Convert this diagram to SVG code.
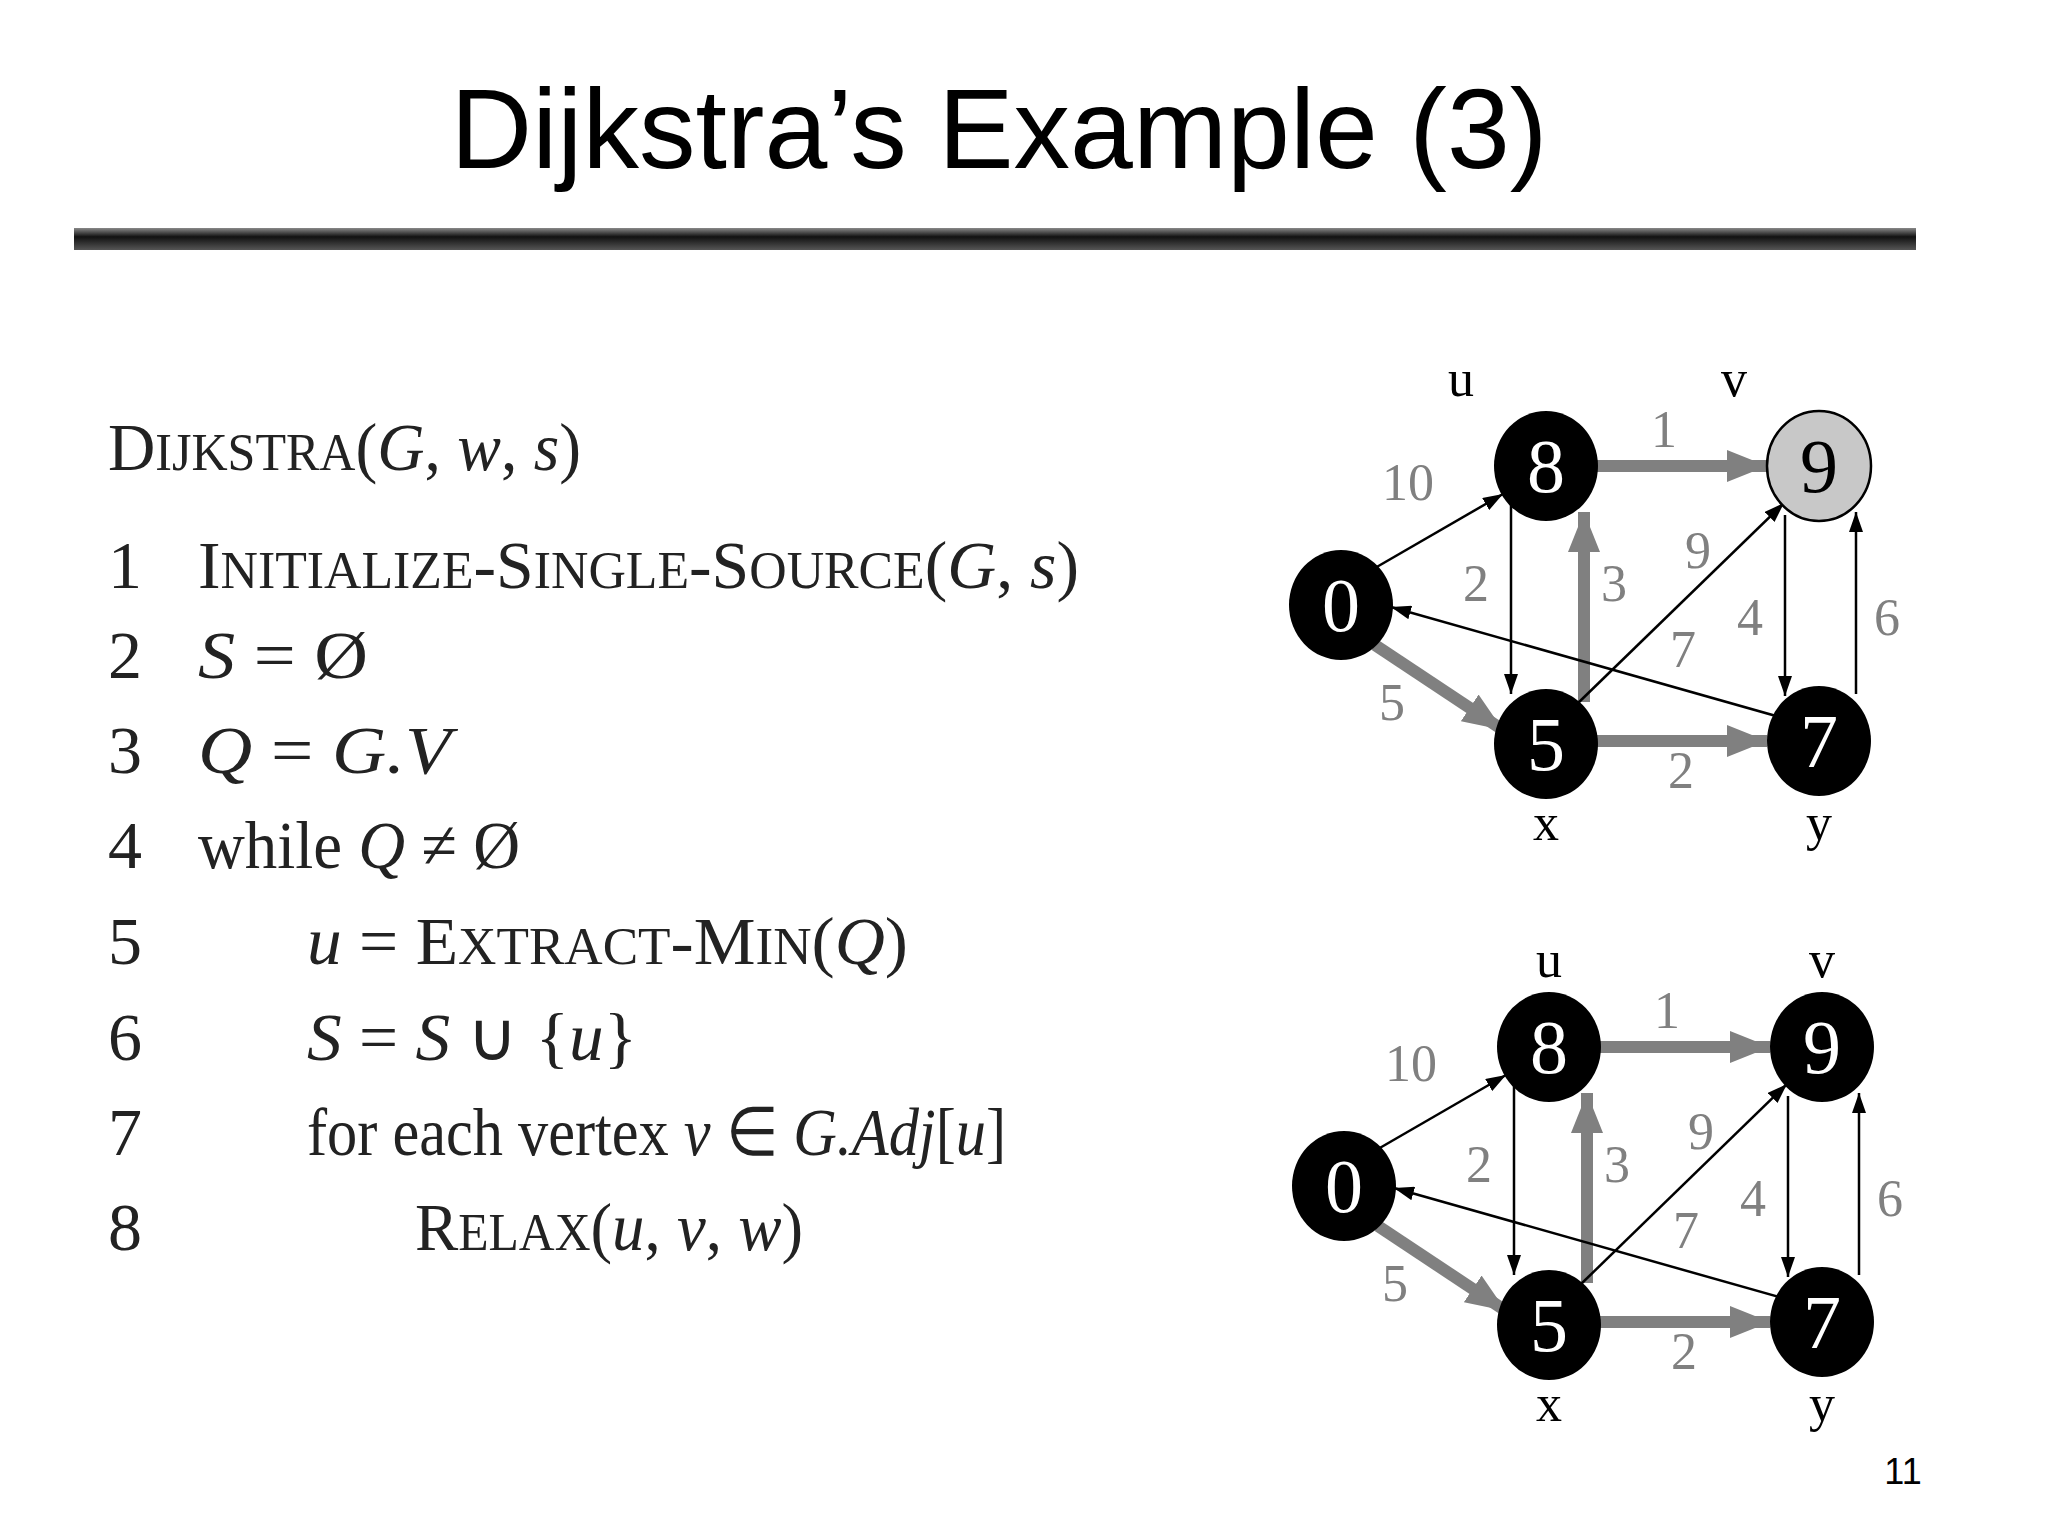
<svg xmlns="http://www.w3.org/2000/svg" width="2048" height="1536" viewBox="0 0 2048 1536">
<defs>
<linearGradient id="bar" x1="0" y1="0" x2="0" y2="1">
<stop offset="0" stop-color="#888"/><stop offset="0.4" stop-color="#111"/><stop offset="1" stop-color="#555"/>
</linearGradient>
<marker id="ab" markerUnits="userSpaceOnUse" markerWidth="22" markerHeight="14" refX="20" refY="7" orient="auto"><path d="M0,0 L20,7 L0,14 z" fill="#000"/></marker>
<marker id="ag" markerUnits="userSpaceOnUse" markerWidth="42" markerHeight="32" refX="40" refY="16" orient="auto"><path d="M0,0 L40,16 L0,32 z" fill="#808080"/></marker>
</defs>
<style>
.t{stroke:#000;stroke-width:2.5;fill:none;marker-end:url(#ab)}
.g{stroke:#808080;stroke-width:12;fill:none;marker-end:url(#ag)}
.n{fill:#000}
.nl{font-family:"Liberation Serif",serif;font-size:76px;fill:#fff;text-anchor:middle}
.el{font-family:"Liberation Serif",serif;font-size:52px;fill:#808080;text-anchor:middle}
.vl{font-family:"Liberation Serif",serif;font-size:52px;fill:#000;text-anchor:middle}
.code{font-family:"Liberation Serif",serif;font-size:68px;fill:#222}
.sc{font-size:52px}
</style>
<rect width="2048" height="1536" fill="#fff"/>
<text x="999" y="168" font-family="Liberation Sans, Arial, sans-serif" font-size="113" text-anchor="middle" fill="#000">Dijkstra’s Example (3)</text>
<rect x="74" y="228" width="1842" height="22" fill="url(#bar)"/>
<g id="code" class="code">
<text x="108" y="470" textLength="473" lengthAdjust="spacingAndGlyphs">D<tspan class="sc">IJKSTRA</tspan>(<tspan font-style="italic">G</tspan>, <tspan font-style="italic">w</tspan>, <tspan font-style="italic">s</tspan>)</text>
<text x="108" y="588">1</text><text x="198" y="588" textLength="881" lengthAdjust="spacingAndGlyphs">I<tspan class="sc">NITIALIZE</tspan>-S<tspan class="sc">INGLE</tspan>-S<tspan class="sc">OURCE</tspan>(<tspan font-style="italic">G</tspan>, <tspan font-style="italic">s</tspan>)</text>
<text x="108" y="678">2</text><text x="198" y="678" textLength="170" lengthAdjust="spacingAndGlyphs"><tspan font-style="italic">S</tspan> = Ø</text>
<text x="108" y="773">3</text><text x="198" y="773" textLength="253" lengthAdjust="spacingAndGlyphs"><tspan font-style="italic">Q</tspan> = <tspan font-style="italic">G.V</tspan></text>
<text x="108" y="868">4</text><text x="198" y="868" textLength="322" lengthAdjust="spacingAndGlyphs">while <tspan font-style="italic">Q</tspan> ≠ Ø</text>
<text x="108" y="964">5</text><text x="307" y="964" textLength="601" lengthAdjust="spacingAndGlyphs"><tspan font-style="italic">u</tspan> = E<tspan class="sc">XTRACT</tspan>-M<tspan class="sc">IN</tspan>(<tspan font-style="italic">Q</tspan>)</text>
<text x="108" y="1060">6</text><text x="307" y="1060" textLength="330" lengthAdjust="spacingAndGlyphs"><tspan font-style="italic">S</tspan> = <tspan font-style="italic">S</tspan> ∪ {<tspan font-style="italic">u</tspan>}</text>
<text x="108" y="1155">7</text><text x="307" y="1155" textLength="699" lengthAdjust="spacingAndGlyphs">for each vertex <tspan font-style="italic">v</tspan> ∈ <tspan font-style="italic">G.Adj</tspan>[<tspan font-style="italic">u</tspan>]</text>
<text x="108" y="1250">8</text><text x="415" y="1250" textLength="388" lengthAdjust="spacingAndGlyphs">R<tspan class="sc">ELAX</tspan>(<tspan font-style="italic">u</tspan>, <tspan font-style="italic">v</tspan>, <tspan font-style="italic">w</tspan>)</text>
</g>
<g id="graph1">
<g id="edges1">
<line class="t" x1="1375" y1="568" x2="1503" y2="494"/>
<line class="g" x1="1596" y1="466" x2="1767" y2="466"/>
<line class="t" x1="1511" y1="505" x2="1511" y2="694"/>
<line class="g" x1="1584" y1="702" x2="1584" y2="512"/>
<line class="t" x1="1576" y1="705" x2="1784" y2="503"/>
<line class="t" x1="1785" y1="515" x2="1785" y2="696"/>
<line class="t" x1="1856" y1="694" x2="1856" y2="512"/>
<line class="t" x1="1783" y1="718" x2="1391" y2="607"/>
<line class="g" x1="1375" y1="645" x2="1503" y2="730"/>
<line class="g" x1="1596" y1="741" x2="1767" y2="741"/>
</g>
<g id="elabels1">
<text class="el" x="1408" y="500">10</text><text class="el" x="1664" y="447">1</text>
<text class="el" x="1476" y="601">2</text><text class="el" x="1614" y="601">3</text>
<text class="el" x="1698" y="568">9</text><text class="el" x="1750" y="635">4</text>
<text class="el" x="1887" y="635">6</text><text class="el" x="1683" y="667">7</text>
<text class="el" x="1392" y="720">5</text><text class="el" x="1681" y="788">2</text>
</g>
<g id="s1"><ellipse class="n" cx="1341" cy="605" rx="52" ry="55"/><text class="nl" x="1341" y="631">0</text></g>
<g id="u1"><ellipse class="n" cx="1546" cy="466" rx="52" ry="55"/><text class="nl" x="1546" y="492">8</text><text class="vl" x="1461" y="396">u</text></g>
<g id="v1"><ellipse cx="1819" cy="466" rx="52" ry="55" fill="#c8c8c8" stroke="#000" stroke-width="2.5"/><text class="nl" x="1819" y="492" style="fill:#000">9</text><text class="vl" x="1734" y="396">v</text></g>
<g id="x1"><ellipse class="n" cx="1546" cy="744" rx="52" ry="55"/><text class="nl" x="1546" y="770">5</text><text class="vl" x="1546" y="840">x</text></g>
<g id="y1"><ellipse class="n" cx="1819" cy="741" rx="52" ry="55"/><text class="nl" x="1819" y="767">7</text><text class="vl" x="1819" y="840">y</text></g>
</g>
<g id="graph2" transform="translate(3,581)">
<g id="edges2">
<line class="t" x1="1375" y1="568" x2="1503" y2="494"/>
<line class="g" x1="1596" y1="466" x2="1767" y2="466"/>
<line class="t" x1="1511" y1="505" x2="1511" y2="694"/>
<line class="g" x1="1584" y1="702" x2="1584" y2="512"/>
<line class="t" x1="1576" y1="705" x2="1784" y2="503"/>
<line class="t" x1="1785" y1="515" x2="1785" y2="696"/>
<line class="t" x1="1856" y1="694" x2="1856" y2="512"/>
<line class="t" x1="1783" y1="718" x2="1391" y2="607"/>
<line class="g" x1="1375" y1="645" x2="1503" y2="730"/>
<line class="g" x1="1596" y1="741" x2="1767" y2="741"/>
</g>
<g id="elabels2">
<text class="el" x="1408" y="500">10</text><text class="el" x="1664" y="447">1</text>
<text class="el" x="1476" y="601">2</text><text class="el" x="1614" y="601">3</text>
<text class="el" x="1698" y="568">9</text><text class="el" x="1750" y="635">4</text>
<text class="el" x="1887" y="635">6</text><text class="el" x="1683" y="667">7</text>
<text class="el" x="1392" y="720">5</text><text class="el" x="1681" y="788">2</text>
</g>
<g id="s2"><ellipse class="n" cx="1341" cy="605" rx="52" ry="55"/><text class="nl" x="1341" y="631">0</text></g>
<g id="u2"><ellipse class="n" cx="1546" cy="466" rx="52" ry="55"/><text class="nl" x="1546" y="492">8</text><text class="vl" x="1546" y="396">u</text></g>
<g id="v2"><ellipse class="n" cx="1819" cy="466" rx="52" ry="55"/><text class="nl" x="1819" y="492">9</text><text class="vl" x="1819" y="396">v</text></g>
<g id="x2"><ellipse class="n" cx="1546" cy="744" rx="52" ry="55"/><text class="nl" x="1546" y="770">5</text><text class="vl" x="1546" y="840">x</text></g>
<g id="y2"><ellipse class="n" cx="1819" cy="741" rx="52" ry="55"/><text class="nl" x="1819" y="767">7</text><text class="vl" x="1819" y="840">y</text></g>
</g>
<text x="1903" y="1484" font-family="Liberation Sans, Arial, sans-serif" font-size="36" text-anchor="middle" fill="#000">11</text>
</svg>
